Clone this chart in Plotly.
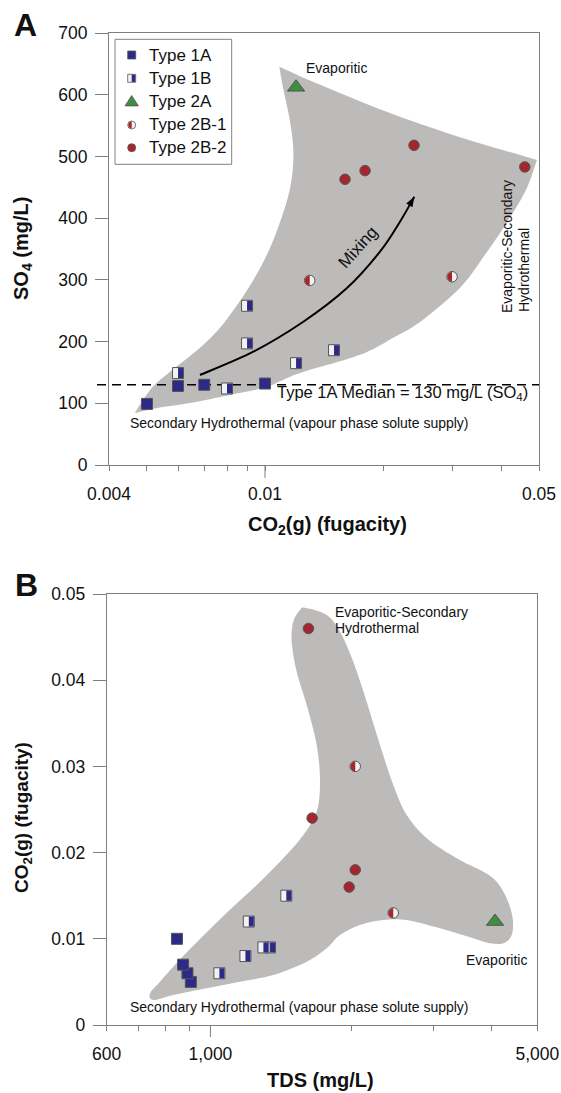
import math
import plotly.graph_objects as go

FONT = "Liberation Sans, Arial, Helvetica, sans-serif"
W, H = 561, 1093

# ---------------------------------------------------------------------------
# Water chemistry by type: CO2(g) fugacity, SO4 (mg/L) and TDS (mg/L)
# ---------------------------------------------------------------------------
type_1a_co2 = [0.005, 0.006, 0.007, 0.010]
type_1a_so4 = [99, 128, 130, 132]
type_1a_tds = [908, 893, 874, 848]

type_1b_co2 = [0.006, 0.008, 0.009, 0.009, 0.012, 0.015]
type_1b_so4 = [149, 124, 258, 197, 165, 186]
type_1b_tds = [1045, 1188, 1341, 1298, 1208, 1453]

type_2a_co2 = [0.012]
type_2a_so4 = [612]
type_2a_tds = [4060]

type_2b1_co2 = [0.013, 0.030]
type_2b1_so4 = [299, 305]
type_2b1_tds = [2460, 2040]

type_2b2_co2 = [0.016, 0.018, 0.024, 0.046]
type_2b2_so4 = [463, 477, 518, 483]
type_2b2_tds = [1980, 2040, 1650, 1620]

type_1a_median_so4 = 130

# Tick positions and labels
co2_log_ticks = [0.004, 0.01, 0.05]
co2_log_labels = ["0.004", "0.01", "0.05"]
co2_log_minor = [0.005, 0.006, 0.007, 0.008, 0.009, 0.02, 0.03, 0.04]
so4_ticks = [0, 100, 200, 300, 400, 500, 600, 700]
so4_labels = ["0", "100", "200", "300", "400", "500", "600", "700"]
tds_ticks = [600, 1000, 5000]
tds_labels = ["600", "1,000", "5,000"]
tds_minor = [700, 800, 900, 2000, 3000, 4000]
co2_lin_ticks = [0, 0.01, 0.02, 0.03, 0.04, 0.05]
co2_lin_labels = ["0", "0.01", "0.02", "0.03", "0.04", "0.05"]

# Colours
BLUE = "#2c2a86"
RED = "#a5262c"
GREEN = "#3f8f3f"
WHITE = "#f2f2f2"
EDGE = "#555555"
FIELD = "#bdbaba"
AXIS = "#808080"

# Field outlines sketched in axis-fraction units (0..1 across each plot area)
field_a_top = [(0.396, 0.922), (0.491, 0.880), (0.647, 0.817), (0.800, 0.764), (0.995, 0.706)]
field_a_lower = [(0.995, 0.706), (0.970, 0.637), (0.926, 0.5625), (0.874, 0.486), (0.816, 0.410),
                 (0.723, 0.331), (0.660, 0.294), (0.584, 0.255), (0.451, 0.215), (0.405, 0.197),
                 (0.358, 0.178), (0.281, 0.162), (0.188, 0.1435), (0.112, 0.132), (0.060, 0.120)]
field_a_left = [(0.060, 0.120), (0.099, 0.178), (0.142, 0.216), (0.192, 0.255), (0.235, 0.293),
                (0.270, 0.332), (0.324, 0.409), (0.367, 0.486), (0.398, 0.563), (0.421, 0.640),
                (0.429, 0.718), (0.421, 0.795), (0.405, 0.872), (0.396, 0.922)]
field_b = [(0.4605, 0.9682), (0.5109, 0.9513), (0.5418, 0.9125), (0.5727, 0.8429), (0.6038, 0.7501),
           (0.6347, 0.6497), (0.6656, 0.5568), (0.6967, 0.4872), (0.7432, 0.4332), (0.8128, 0.3868),
           (0.8746, 0.3557), (0.9057, 0.3325), (0.9289, 0.2940), (0.9429, 0.2476), (0.9405, 0.2088),
           (0.9211, 0.1896), (0.8902, 0.1896), (0.8514, 0.2012), (0.7740, 0.2244), (0.6967, 0.2436),
           (0.6424, 0.2436), (0.5882, 0.2320), (0.5418, 0.2088), (0.5109, 0.1780), (0.4645, 0.1469),
           (0.3869, 0.1160), (0.3096, 0.1005), (0.2322, 0.0852), (0.1547, 0.0696), (0.1082, 0.0580),
           (0.1006, 0.0736), (0.1238, 0.1005), (0.1779, 0.1601), (0.2708, 0.2529), (0.3484, 0.3248),
           (0.4101, 0.3868), (0.4566, 0.4408), (0.4877, 0.4949), (0.4954, 0.5645), (0.4877, 0.6497),
           (0.4645, 0.7425), (0.4412, 0.8197), (0.4296, 0.8893), (0.4333, 0.9357), (0.4489, 0.9629)]
mixing_path = [(0.2116, 0.2083), (0.3356, 0.2623), (0.4519, 0.3317), (0.5528, 0.4090),
               (0.6302, 0.4938), (0.6767, 0.5632), (0.7100, 0.6211)]


def spline_segments(pts, closed=False):
    """Catmull-Rom curve through pts, returned as SVG cubic segments."""
    n = len(pts)
    out = []
    for i in range(n if closed else n - 1):
        if closed:
            p0, p1, p2, p3 = pts[(i - 1) % n], pts[i], pts[(i + 1) % n], pts[(i + 2) % n]
        else:
            p0, p1 = pts[max(i - 1, 0)], pts[i]
            p2, p3 = pts[i + 1], pts[min(i + 2, n - 1)]
        c1 = (p1[0] + (p2[0] - p0[0]) / 6, p1[1] + (p2[1] - p0[1]) / 6)
        c2 = (p2[0] - (p3[0] - p1[0]) / 6, p2[1] - (p3[1] - p1[1]) / 6)
        out.append(f"C{c1[0]:.4f},{c1[1]:.4f} {c2[0]:.4f},{c2[1]:.4f} {p2[0]:.4f},{p2[1]:.4f}")
    return out


def start(pts):
    return f"M{pts[0][0]:.4f},{pts[0][1]:.4f} "


path_a = start(field_a_top) + " ".join(
    spline_segments(field_a_top) + spline_segments(field_a_lower) + spline_segments(field_a_left)) + " Z"
path_b = start(field_b) + " ".join(spline_segments(field_b, closed=True)) + " Z"
path_mix = start(mixing_path) + " ".join(spline_segments(mixing_path))


def half_square(h):
    return f"M0,{-h} L{h},{-h} L{h},{h} L0,{h} Z"


def half_disc(r):
    k = 0.5523 * r
    return f"M0,{-r} C{-k},{-r} {-r},{-k} {-r},0 C{-r},{k} {-k},{r} 0,{r} Z"


def arrow_head(dx, dy, length=10, half_width=3.6):
    """Triangle with its tip at the origin pointing along (dx, dy), y upwards."""
    n = math.hypot(dx, dy)
    ux, uy = dx / n, dy / n
    bx, by = -ux * length, -uy * length
    px, py = -uy * half_width, ux * half_width
    return (f"M0,0 L{bx + px:.2f},{by + py:.2f} L{bx - px:.2f},{by - py:.2f} Z")


fig = go.Figure()

SQ, CI, TR = 11, 10.5, 15


def add_series(xs, ys, xaxis, yaxis, name, symbol, size, color):
    fig.add_trace(go.Scatter(
        x=xs, y=ys, xaxis=xaxis, yaxis=yaxis, mode="markers", name=name, showlegend=False,
        marker=dict(symbol=symbol, size=size, color=color, line=dict(color=EDGE, width=1)),
        cliponaxis=False,
    ))


shapes = []
shapes.append(dict(type="path", xref="x domain", yref="y domain", path=path_a,
                   fillcolor=FIELD, line=dict(width=0), layer="below"))
shapes.append(dict(type="path", xref="x2 domain", yref="y2 domain", path=path_b,
                   fillcolor=FIELD, line=dict(width=0), layer="below"))

panels = [
    ("x", "y", type_1a_co2, type_1a_so4, type_1b_co2, type_1b_so4, type_2a_co2, type_2a_so4,
     type_2b1_co2, type_2b1_so4, type_2b2_co2, type_2b2_so4),
    ("x2", "y2", type_1a_tds, type_1a_co2, type_1b_tds, type_1b_co2, type_2a_tds, type_2a_co2,
     type_2b1_tds, type_2b1_co2, type_2b2_tds, type_2b2_co2),
]
for xa, ya, x1a, y1a, x1b, y1b, x2a, y2a, x2b1, y2b1, x2b2, y2b2 in panels:
    add_series(x1a, y1a, xa, ya, "Type 1A", "square", SQ, BLUE)
    add_series(x1b, y1b, xa, ya, "Type 1B", "square", SQ, WHITE)
    add_series(x2a, y2a, xa, ya, "Type 2A", "triangle-up", TR, GREEN)
    add_series(x2b1, y2b1, xa, ya, "Type 2B-1", "circle", CI, WHITE)
    add_series(x2b2, y2b2, xa, ya, "Type 2B-2", "circle", CI, RED)
    # coloured halves of the split symbols
    for xv, yv in zip(x1b, y1b):
        shapes.append(dict(type="path", xref=xa, yref=ya, xsizemode="pixel", ysizemode="pixel",
                           xanchor=xv, yanchor=yv, path=half_square(5), fillcolor=BLUE,
                           line=dict(width=0), layer="above"))
    for xv, yv in zip(x2b1, y2b1):
        shapes.append(dict(type="path", xref=xa, yref=ya, xsizemode="pixel", ysizemode="pixel",
                           xanchor=xv, yanchor=yv, path=half_disc(4.8), fillcolor=RED,
                           line=dict(width=0), layer="above"))

# Type 1A median reference line
shapes.append(dict(type="line", xref="paper", yref="y", x0=97 / W, x1=539 / W,
                   y0=type_1a_median_so4, y1=type_1a_median_so4,
                   line=dict(color="black", width=1.5, dash="9px,6px"), layer="below"))
# mixing trend with its arrow head
shapes.append(dict(type="path", xref="x domain", yref="y domain", path=path_mix,
                   line=dict(color="black", width=2), layer="above"))
tail, tip = mixing_path[-2], mixing_path[-1]
shapes.append(dict(type="path", xref="x domain", yref="y domain", xsizemode="pixel",
                   ysizemode="pixel", xanchor=tip[0], yanchor=tip[1],
                   path=arrow_head((tip[0] - tail[0]) * 430, (tip[1] - tail[1]) * 432),
                   fillcolor="black", line=dict(width=0), layer="above"))
# longer ticks at the middle labelled values
shapes.append(dict(type="line", xref="x", yref="paper", x0=0.01, x1=0.01,
                   y0=1 - 465 / H, y1=1 - 478 / H, line=dict(color=AXIS, width=1)))
shapes.append(dict(type="line", xref="x2", yref="paper", x0=1000, x1=1000,
                   y0=1 - 1025 / H, y1=1 - 1037 / H, line=dict(color=AXIS, width=1)))

# Legend box (panel A)
shapes.append(dict(type="rect", xref="paper", yref="paper", x0=115 / W, x1=231.7 / W,
                   y0=1 - 164.3 / H, y1=1 - 39.3 / H, line=dict(color=AXIS, width=1),
                   fillcolor="white", layer="above"))
legend_names = ["Type 1A", "Type 1B", "Type 2A", "Type 2B-1", "Type 2B-2"]
legend_rows = [55, 78.3, 101.7, 125, 147.7]
lx = 131.7 / W


def glyph(row, **kw):
    d = dict(xref="paper", yref="paper", xsizemode="pixel", ysizemode="pixel",
             xanchor=lx, yanchor=1 - row / H, layer="above")
    d.update(kw)
    shapes.append(d)


glyph(legend_rows[0], type="rect", x0=-4, x1=4, y0=-4, y1=4, fillcolor=BLUE,
      line=dict(color=EDGE, width=0.8))
glyph(legend_rows[1], type="rect", x0=-4, x1=4, y0=-4, y1=4, fillcolor=WHITE,
      line=dict(color=EDGE, width=0.8))
glyph(legend_rows[1], type="path", path=half_square(3.6), fillcolor=BLUE, line=dict(width=0))
glyph(legend_rows[2], type="path", path="M-6.7,-4.2 L6.7,-4.2 L0,6.2 Z", fillcolor=GREEN,
      line=dict(color=EDGE, width=0.8))
glyph(legend_rows[3], type="circle", x0=-4, x1=4, y0=-4, y1=4, fillcolor=WHITE,
      line=dict(color=EDGE, width=0.8))
glyph(legend_rows[3], type="path", path=half_disc(3.5), fillcolor=RED, line=dict(width=0))
glyph(legend_rows[4], type="circle", x0=-4, x1=4, y0=-4, y1=4, fillcolor=RED,
      line=dict(color=EDGE, width=0.8))

annotations = []


def note(text, px, py, size=14, bold=False, angle=0, xanchor="center", yanchor="middle"):
    annotations.append(dict(text=f"<b>{text}</b>" if bold else text, x=px / W, y=1 - py / H,
                            xref="paper", yref="paper", showarrow=False, textangle=angle,
                            xanchor=xanchor, yanchor=yanchor,
                            font=dict(family=FONT, size=size, color="#111111")))


for name, row in zip(legend_names, legend_rows):
    note(name, 147, row, size=17, xanchor="left")

# panel letters
note("A", 25.5, 25, size=32, bold=True)
note("B", 26, 585, size=32, bold=True)

# axis titles
note("CO<sub>2</sub>(g) (fugacity)", 327, 525, size=20, bold=True)
note("SO<sub>4</sub> (mg/L)", 23, 249, size=20, bold=True, angle=-90)
note("CO<sub>2</sub>(g) (fugacity)", 23, 818, size=19, bold=True, angle=-90)
note("TDS (mg/L)", 320, 1080, size=20, bold=True)

# panel A labels
note("Evaporitic", 336.5, 68.5, size=14)
note("Evaporitic-Secondary", 507, 246, size=14, angle=-90)
note("Hydrothermal", 524, 270, size=14, angle=-90)
note("Mixing", 358, 248, size=17, angle=-48)
note("Type 1A Median = 130 mg/L (SO<sub>4</sub>)", 275, 393, size=16.5, xanchor="left")
note("Secondary Hydrothermal (vapour phase solute supply)", 299, 423.3, size=14)

# panel B labels
note("Evaporitic-Secondary", 333, 612.3, size=14, xanchor="left")
note("Hydrothermal", 333, 628.3, size=14, xanchor="left")
note("Evaporitic", 496, 960, size=14)
note("Secondary Hydrothermal (vapour phase solute supply)", 299, 1007.3, size=14)

axis_style = dict(showline=True, linecolor=AXIS, linewidth=1, mirror=True, ticks="outside",
                  tickcolor=AXIS, tickwidth=1, showgrid=False, zeroline=False, automargin=False,
                  tickfont=dict(family=FONT, size=17.5, color="#111111"))
minor_style = dict(ticks="outside", ticklen=5, tickcolor=AXIS, tickwidth=1, showgrid=False)

fig.update_layout(
    width=W, height=H, autosize=False,
    margin=dict(l=0, r=0, t=0, b=0, autoexpand=False),
    paper_bgcolor="white", plot_bgcolor="white",
    font=dict(family=FONT),
    showlegend=False,
    xaxis=dict(axis_style, type="log", range=[-2.39794, -1.30103], domain=[109 / W, 539 / W],
               tickmode="array", tickvals=co2_log_ticks, ticktext=co2_log_labels, ticklen=5,
               minor=dict(minor_style, tickvals=co2_log_minor),
               ticklabelstandoff=8, anchor="y"),
    yaxis=dict(axis_style, range=[0, 700], domain=[1 - 465 / H, 1 - 33 / H],
               tickmode="array", tickvals=so4_ticks, ticktext=so4_labels, ticklen=13,
               ticklabelstandoff=4, anchor="x"),
    xaxis2=dict(axis_style, type="log", range=[2.778151, 3.69897], domain=[106.7 / W, 537.3 / W],
                tickmode="array", tickvals=tds_ticks, ticktext=tds_labels, ticklen=5,
                minor=dict(minor_style, tickvals=tds_minor),
                ticklabelstandoff=8, anchor="y2"),
    yaxis2=dict(axis_style, range=[0, 0.05], domain=[1 - 1025 / H, 1 - 594 / H],
                tickmode="array", tickvals=co2_lin_ticks, ticktext=co2_lin_labels, ticklen=13,
                ticklabelstandoff=4, anchor="x2"),
    shapes=shapes,
    annotations=annotations,
)

fig.write_html("out.html")
